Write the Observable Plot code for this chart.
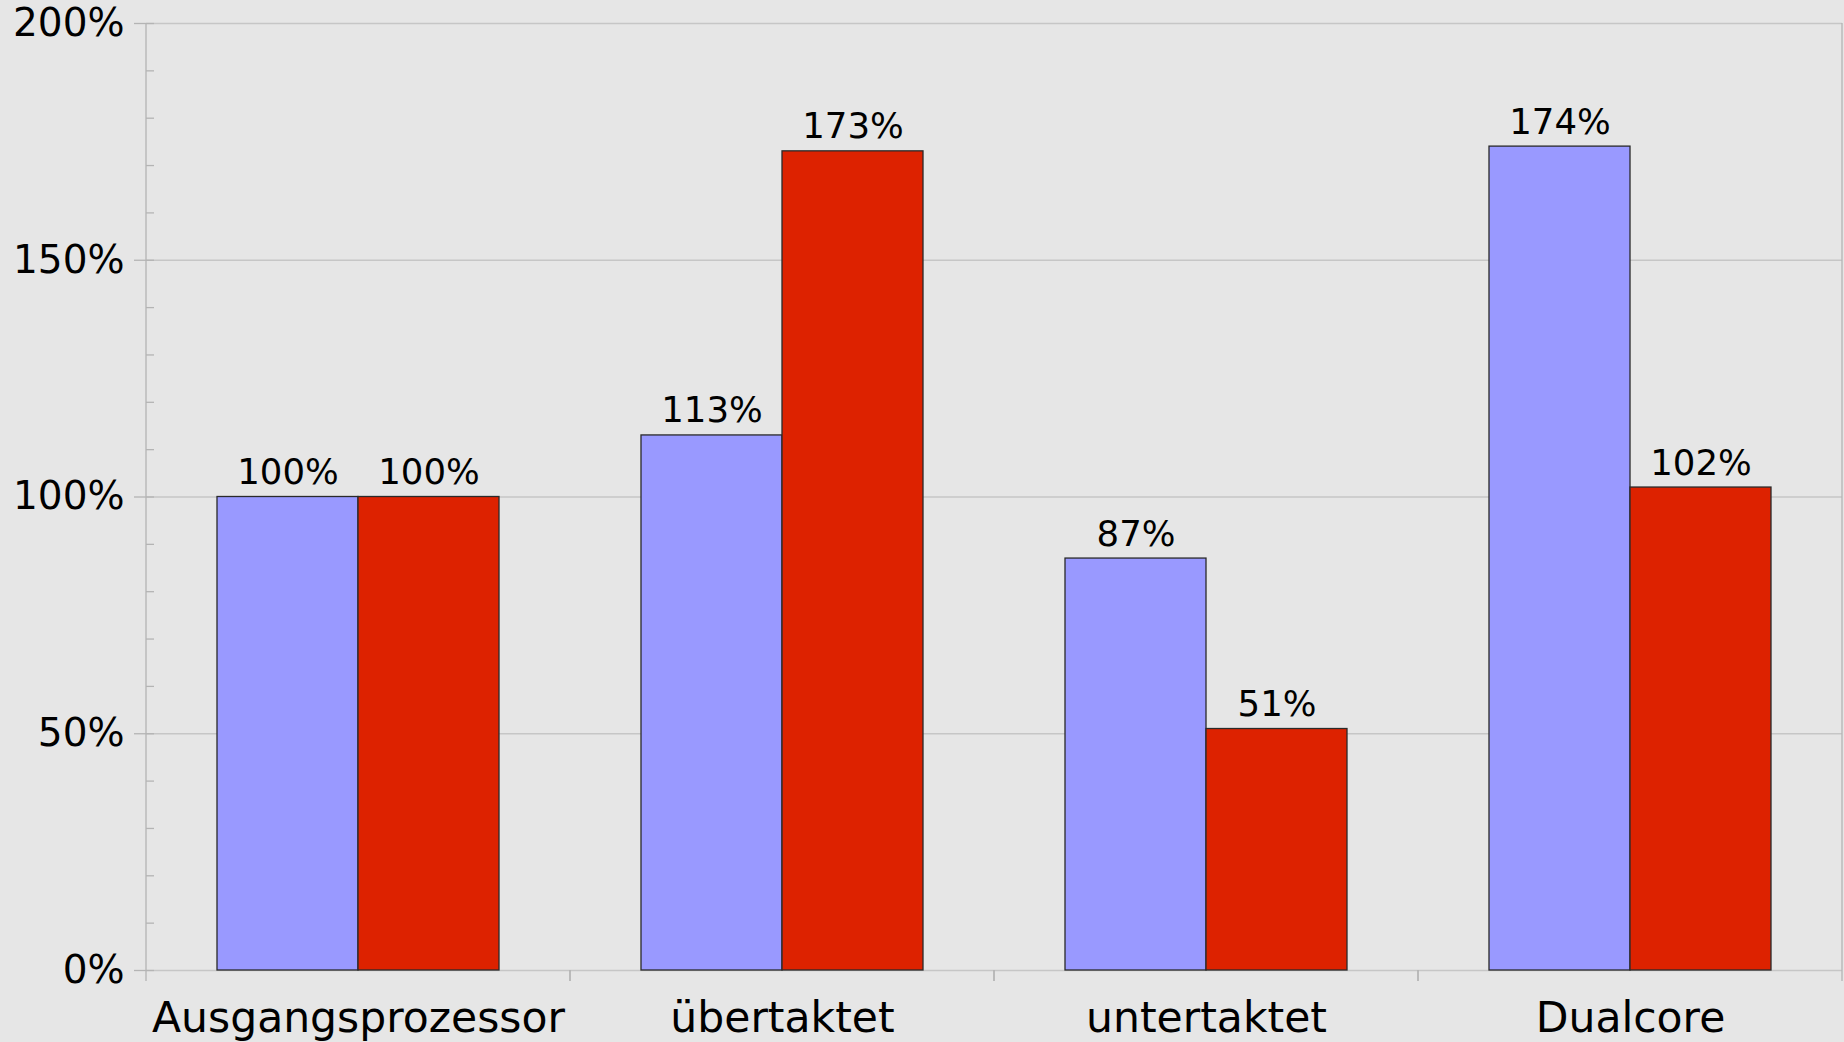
<!DOCTYPE html>
<html>
<head>
<meta charset="utf-8">
<script src="https://cdn.jsdelivr.net/npm/d3@7"></script>
<script src="https://cdn.jsdelivr.net/npm/@observablehq/plot@0.6"></script>
<style>
  html, body { margin: 0; padding: 0; background: #e6e6e6; }
  #chart svg { display: block; }
</style>
</head>
<body>
<div id="chart"></div>
<script>
// ---- data ----
const categories = ["Ausgangsprozessor", "übertaktet", "untertaktet", "Dualcore"];
const seriesNames = ["A", "B"];
const seriesAValues = [100, 113, 87, 174];
const seriesBValues = [100, 173, 51, 102];
const yTickValues = [0, 50, 100, 150, 200];
const yMinorTickValues = [0, 10, 20, 30, 40, 50, 60, 70, 80, 90, 100, 110, 120, 130, 140, 150, 160, 170, 180, 190, 200];
const seriesColors = ["#9999ff", "#dd2200"];

// ---- style ----
const BG = "#e6e6e6";
const GRID = "#c6c6c6";
const AXIS = "#b4b4b4";
const FONT = "DejaVu Sans";

const table = categories.flatMap((c, i) => [
  {category: c, series: seriesNames[0], value: seriesAValues[i]},
  {category: c, series: seriesNames[1], value: seriesBValues[i]}
]);

// per-facet axis lines: separator ticks below the baseline, plus the
// left axis line (first facet) and right border line (last facet)
function axisLines(index, scales) {
  const {x, y} = scales;
  const [r0, r1] = x.range();
  const y0 = y(yTickValues[0]);
  const yTop = y(yTickValues[yTickValues.length - 1]);
  const tick = 11;
  const g = d3.create("svg:g")
    .attr("stroke", AXIS)
    .attr("stroke-width", 1.3)
    .attr("fill", "none");
  for (const i of index) {
    const isFirst = i === 0;
    const isLast = i === categories.length - 1;
    g.append("line").attr("x1", r0).attr("x2", r0).attr("y1", isFirst ? yTop : y0).attr("y2", y0 + tick);
    g.append("line").attr("x1", r1).attr("x2", r1).attr("y1", isLast ? yTop : y0).attr("y2", y0 + tick);
  }
  return g.node();
}

const chart = Plot.plot({
  width: 1844,
  height: 1042,
  marginLeft: 145,
  marginRight: 2,
  marginTop: 23,
  marginBottom: 72,
  style: {background: BG, fontFamily: FONT, color: "black", overflow: "visible"},
  fx: {domain: categories, padding: 0, axis: null, label: null},
  x: {domain: seriesNames, paddingInner: 0, paddingOuter: 0.5, axis: null, label: null},
  y: {domain: [yTickValues[0], yTickValues[yTickValues.length - 1]], axis: null, label: null},
  color: {domain: seriesNames, range: seriesColors},
  marks: [
    Plot.gridY(yTickValues, {stroke: GRID, strokeOpacity: 1, strokeWidth: 1.3}),
    Plot.ruleY(categories, {fx: d => d, y: () => yTickValues[0], stroke: GRID, strokeWidth: 1.3, render: axisLines}),
    Plot.barY(table, {
      fx: "category", x: "series", y: "value",
      fill: "series", stroke: "#2a2a2a", strokeWidth: 1.3
    }),
    Plot.text(table, {
      fx: "category", x: "series", y: "value",
      text: d => `${d.value}%`,
      lineAnchor: "bottom", dy: -13,
      fontSize: 35.5, fill: "black"
    }),
    Plot.axisY({ticks: yTickValues, tickSize: 12, color: AXIS, strokeWidth: 1.3, tickFormat: () => ""}),
    Plot.axisY({ticks: yMinorTickValues, tickSize: -8, color: AXIS, strokeWidth: 1.3, tickFormat: () => ""}),
    Plot.axisY({ticks: yTickValues, tickSize: 0, tickPadding: 22, fontSize: 39, color: "black", tickFormat: d => `${d}%`, label: null}),
    Plot.axisFx({anchor: "bottom", tickSize: 0, tickPadding: 31, fontSize: 42.5, color: "black", label: null})
  ]
});

document.getElementById("chart").append(chart);
</script>
</body>
</html>
